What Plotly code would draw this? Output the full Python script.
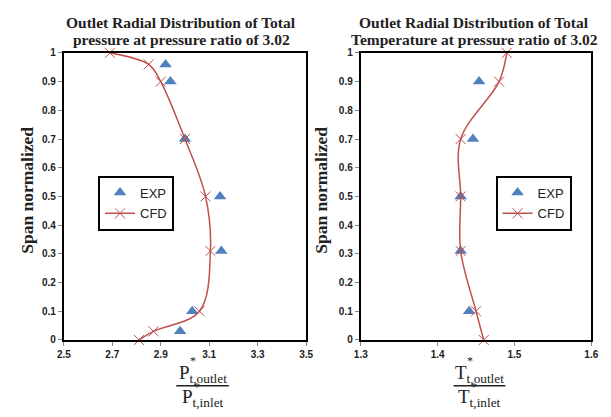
import plotly.graph_objects as go

# ---- data ----
span_p_cfd = [1.0, 0.96, 0.90, 0.70, 0.50, 0.31, 0.10, 0.03, 0.0]
pr_cfd = [2.69, 2.85, 2.90, 3.00, 3.085, 3.105, 3.06, 2.87, 2.81]
span_p_exp = [0.96, 0.90, 0.70, 0.50, 0.31, 0.10, 0.03]
pr_exp = [2.92, 2.94, 3.00, 3.145, 3.15, 3.03, 2.98]

span_t_cfd = [1.0, 0.90, 0.70, 0.50, 0.31, 0.10, 0.0]
tr_cfd = [1.49, 1.48, 1.43, 1.43, 1.43, 1.45, 1.46]
span_t_exp = [0.90, 0.70, 0.50, 0.31, 0.10]
tr_exp = [1.454, 1.446, 1.43, 1.43, 1.441]

title_lines = [["Outlet Radial Distribution of Total", "pressure at pressure ratio of 3.02"],
               ["Outlet Radial Distribution of Total", "Temperature at pressure ratio of 3.02"]]

# page body has an 8px margin: the figure is sized to fit the window inside it
OFF = 8
W, H = 611 - OFF, 417 - OFF
RED = "#C0504D"
BLUE = "#4F81BD"

def px(x):
    return (x - OFF) / W

def py(y):
    return 1 - (y - OFF) / H

fig = go.Figure()

for xs, ys, xa, ya, lg in [(pr_exp, span_p_exp, "x", "y", "legend"), (tr_exp, span_t_exp, "x2", "y2", "legend2")]:
    fig.add_trace(go.Scatter(x=xs, y=ys, mode="markers", name="EXP", xaxis=xa, yaxis=ya,
                             marker=dict(symbol="triangle-up", size=11, color=BLUE),
                             legend=lg, legendgroup="exp", cliponaxis=False))
for xs, ys, xa, ya, lg in [(pr_cfd, span_p_cfd, "x", "y", "legend"), (tr_cfd, span_t_cfd, "x2", "y2", "legend2")]:
    fig.add_trace(go.Scatter(x=xs, y=ys, mode="lines+markers", name="CFD", xaxis=xa, yaxis=ya,
                             line=dict(color=RED, width=1.5, shape="spline", smoothing=1.0),
                             marker=dict(symbol="x-thin", size=10, line=dict(color=RED, width=1)),
                             legend=lg, legendgroup="cfd", cliponaxis=False))

tickfont = dict(family="Liberation Sans", size=10, color="#222", weight="bold")
axis_common = dict(showline=True, linecolor="black", linewidth=2, mirror=True,
                   ticks="outside", ticklen=4, tickcolor="#888", showgrid=False,
                   zeroline=False, tickfont=tickfont)
ydom = [py(344), py(49)]
legfont = dict(family="Liberation Sans", size=13, color="#222")

fig.update_layout(
    width=W, height=H, margin=dict(l=0, r=0, t=0, b=0),
    paper_bgcolor="white", plot_bgcolor="white",
    xaxis=dict(domain=[px(58), px(306)], range=[2.5, 3.5], tick0=2.5, dtick=0.2, anchor="y", **axis_common),
    yaxis=dict(domain=ydom, range=[0, 1], dtick=0.1, anchor="x", **axis_common),
    xaxis2=dict(domain=[px(362), px(598)], range=[1.3, 1.6], tick0=1.3, dtick=0.1, anchor="y2", **axis_common),
    yaxis2=dict(domain=ydom, range=[0, 1], dtick=0.1, anchor="x2", **axis_common),
    legend=dict(x=px(93), y=py(175), xanchor="left", yanchor="top", bordercolor="black", borderwidth=2,
                bgcolor="white", font=legfont, tracegroupgap=1),
    legend2=dict(x=px(500), y=py(175), xanchor="left", yanchor="top", bordercolor="black", borderwidth=2,
                 bgcolor="white", font=legfont, tracegroupgap=1),
    showlegend=True,
)

serif = "Liberation Serif"
ann = []

def note(text, x, y, size, angle=0):
    ann.append(dict(text=text, x=px(x), y=py(y), xref="paper", yref="paper", xanchor="center",
                    yanchor="middle", showarrow=False, textangle=angle, align="center",
                    font=dict(family=serif, size=size, color="#222")))

# titles
for lines, cx in zip(title_lines, [178, 478]):
    note("<b>" + lines[0] + "</b>", cx, 18, 15.5)
    note("<b>" + lines[1] + "</b>", cx, 35, 15.5)
# y titles
for cx in [20, 321]:
    note("<b>Span normalized</b>", cx, 190, 17.5, -90)
# x titles (fractions)
for letter, cx, x0, x1 in [("P", 200, 173, 227), ("T", 484, 457, 510)]:
    note(letter + "<sub>t,outlet</sub>", cx, 379, 19)
    note("*", x0 + 17, 366, 12)
    note(letter + "<sub>t,inlet</sub>", cx, 404, 19)
    note("*", x0 + 21, 392, 12)
    fig.add_shape(type="line", xref="paper", yref="paper", x0=px(x0), x1=px(x1), y0=py(391), y1=py(391),
                  line=dict(color="#222", width=1.5))
fig.update_layout(annotations=ann)

fig.write_html("out.html", config={"displayModeBar": False})
